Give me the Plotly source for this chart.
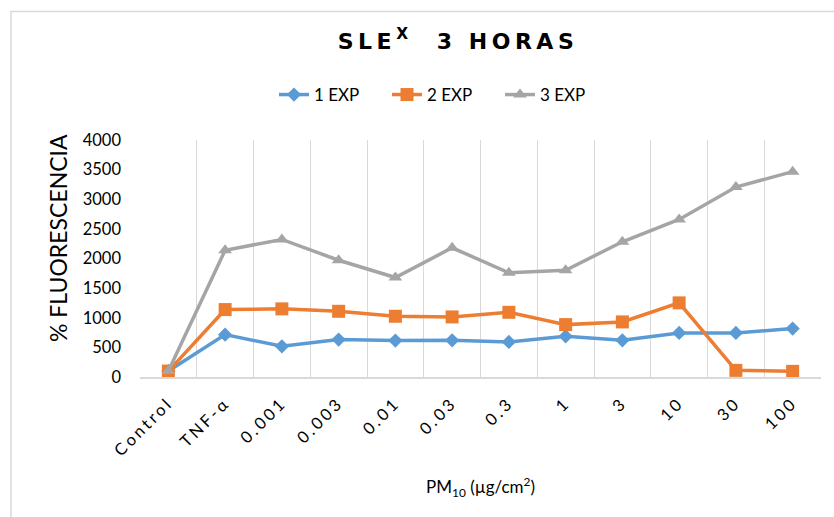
import plotly.graph_objects as go

categories = ["Control", "TNF-α", "0.001", "0.003", "0.01", "0.03", "0.3", "1", "3", "10", "30", "100"]
exp1 = [100, 715, 518, 631, 614, 619, 592, 686, 619, 744, 744, 817]
exp2 = [100, 1138, 1150, 1109, 1025, 1014, 1092, 884, 930, 1251, 112, 95]
exp3 = [100, 2140, 2321, 1971, 1679, 2181, 1758, 1802, 2282, 2659, 3206, 3466]
series_names = ["1 EXP", "2 EXP", "3 EXP"]
colors = ["#5B9BD5", "#ED7D31", "#A5A5A5"]
symbols = ["diamond", "square", "triangle-up"]
marker_sizes = [11, 13, 12]
y_ticks = [0, 500, 1000, 1500, 2000, 2500, 3000, 3500, 4000]

W, H = 834, 517
L, R, T, B = 140, 13, 140, 140
pw, ph = W - L - R, H - T - B

def px_x(x):
    return (x - L) / pw

def px_y(y):
    return (H - B - y) / ph

fig = go.Figure()
for name, vals, c, s, ms in zip(series_names, [exp1, exp2, exp3], colors, symbols, marker_sizes):
    fig.add_trace(go.Scatter(
        x=categories, y=vals, name=name, mode="lines+markers",
        line=dict(color=c, width=3.5),
        marker=dict(symbol=s, size=ms, color=c),
    ))

fig.update_layout(
    width=W, height=H,
    margin=dict(l=L, r=R, t=T, b=B, autoexpand=False),
    paper_bgcolor="white", plot_bgcolor="white",
    font=dict(family="Lato, sans-serif", color="#000000", size=16.5),
    title=dict(
        text="SLE<sup>X</sup>\u00a0\u00a03 HORAS",
        x=458 / W, xanchor="center", xref="container",
        y=1 - 41 / H, yanchor="middle", yref="container",
        font=dict(family="DejaVu Sans, sans-serif", size=22, color="#000000", weight="bold"),
    ),
    showlegend=True,
    legend=dict(
        orientation="h", x=px_x(274), xanchor="left", y=px_y(95), yanchor="middle",
        font=dict(family="Lato, sans-serif", size=17, color="#000000"),
        bgcolor="rgba(0,0,0,0)", entrywidth=68, entrywidthmode="pixels",
    ),
    xaxis=dict(
        type="category", range=[-0.5, 11.5],
        showgrid=True, gridcolor="#D9D9D9", gridwidth=1,
        tickson="boundaries", ticks="", tickangle=-45,
        showline=True, linecolor="#D9D9D9", linewidth=1.5,
        tickfont=dict(family="Lato, sans-serif", size=16.5, color="#000000"),
        ticklabelstandoff=8,
        zeroline=False,
    ),
    yaxis=dict(
        range=[0, 4000], tickvals=y_ticks, ticktext=[str(v) for v in y_ticks],
        showgrid=False, zeroline=False, showline=False, ticks="",
        tickfont=dict(family="Lato, sans-serif", size=16.5, color="#000000"),
        ticklabelstandoff=18,
    ),
    annotations=[
        dict(text="% FLUORESCENCIA", xref="paper", yref="paper",
             x=px_x(58), y=px_y(238), xanchor="center", yanchor="middle",
             textangle=-90, showarrow=False,
             font=dict(family="Lato, sans-serif", size=23, color="#000000")),
        dict(text="PM<sub>10</sub> (µg/cm<sup>2</sup>)", xref="paper", yref="paper",
             x=px_x(480), y=px_y(487), xanchor="center", yanchor="middle",
             showarrow=False,
             font=dict(family="Lato, sans-serif", size=17, color="#000000")),
    ],
    shapes=[
        dict(type="rect", xref="paper", yref="paper",
             x0=px_x(11), x1=px_x(W + 20), y0=px_y(H + 20), y1=px_y(11.5),
             line=dict(color="#D9D9D9", width=1.5), fillcolor="rgba(0,0,0,0)", layer="below"),
    ],
)

post = """
document.body.style.margin = '0';
document.body.style.padding = '0';
var gd = document.getElementById('{plot_id}');
gd.querySelectorAll('.xtick text').forEach(function(t){ t.style.letterSpacing = '3px'; });
var tt = gd.querySelector('.gtitle'); if (tt) { tt.style.letterSpacing = '4.5px'; }
"""

fig.write_html("out.html", post_script=post, config={"displayModeBar": False})
